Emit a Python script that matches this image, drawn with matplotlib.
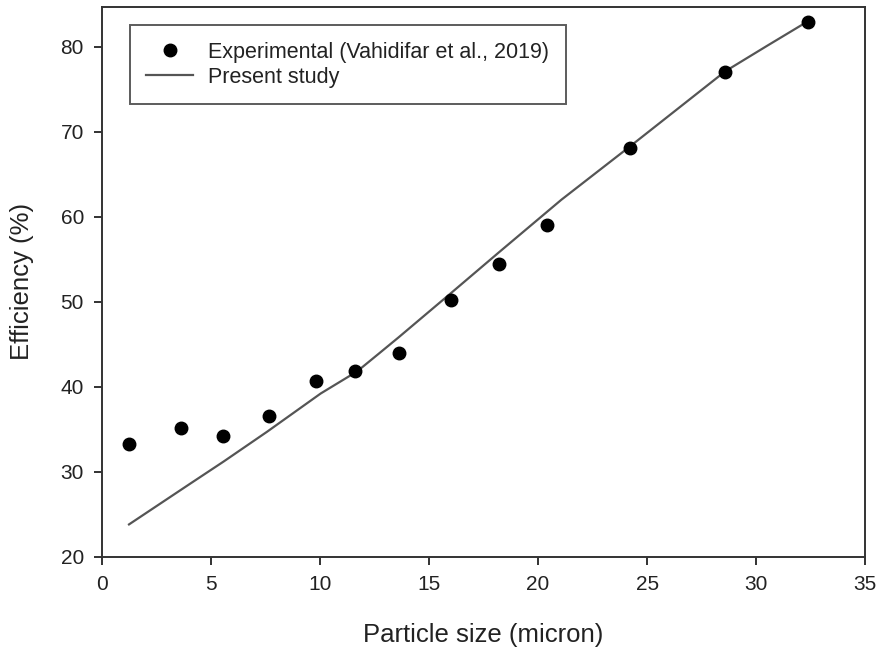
import matplotlib
matplotlib.use('Agg')
from matplotlib import pyplot as plt

plt.rcParams['font.family'] = ['Liberation Sans', 'DejaVu Sans']

# experimental points
exp_size = [1.24, 3.62, 5.57, 7.67, 9.83, 11.6, 13.63, 16.0, 18.2, 20.42, 24.23, 28.58, 32.38]
exp_eff = [33.3, 35.1, 34.2, 36.55, 40.67, 41.9, 44.0, 50.15, 54.4, 59.0, 68.05, 77.0, 82.9]

# model curve
model_size = [1.24, 4.05, 5.58, 7.57, 10.03, 11.7, 12.7, 13.6, 16.0, 18.2, 21.07, 24.23, 28.58, 30.5, 32.38]
model_eff = [23.8, 28.6, 31.2, 34.7, 39.2, 41.8, 43.9, 45.8, 51.0, 55.8, 62.0, 68.3, 77.1, 80.1, 83.0]

fig = plt.figure(figsize=(8.82, 6.5), dpi=100)
ax = fig.add_axes([0.1156, 0.1435, 0.8654, 0.8462])

ax.plot(model_size, model_eff, '-', color='#555555', lw=1.6, label='Present study')
ax.plot(exp_size, exp_eff, 'o', color='black', ms=9, label='Experimental (Vahidifar et al., 2019)', zorder=3)

ax.set_xlim(0, 35)
ax.set_ylim(20, 84.7)
ax.set_xticks(range(0, 36, 5))
ax.set_yticks(range(20, 81, 10))
ax.tick_params(direction='out', length=6, width=1.3, labelsize=15, colors='#222222', pad=7)
for s in ax.spines.values():
    s.set_linewidth(1.4)
    s.set_color('#333333')

ax.set_xlabel('Particle size (micron)', fontsize=18.5, color='#222222', labelpad=21)
ax.set_ylabel('Efficiency (%)', fontsize=18.5, color='#222222', labelpad=19)

h, l = ax.get_legend_handles_labels()
leg = ax.legend(h[::-1], l[::-1], loc='upper left', bbox_to_anchor=(0.0365, 0.966),
                fontsize=15.5, frameon=True, fancybox=False, edgecolor='#333333',
                borderpad=0.75, handlelength=2.2, handletextpad=0.7,
                labelspacing=0.2, borderaxespad=0)
leg.get_frame().set_linewidth(1.4)
for t in leg.get_texts():
    t.set_color('#222222')

fig.savefig('out.png', dpi=100)
